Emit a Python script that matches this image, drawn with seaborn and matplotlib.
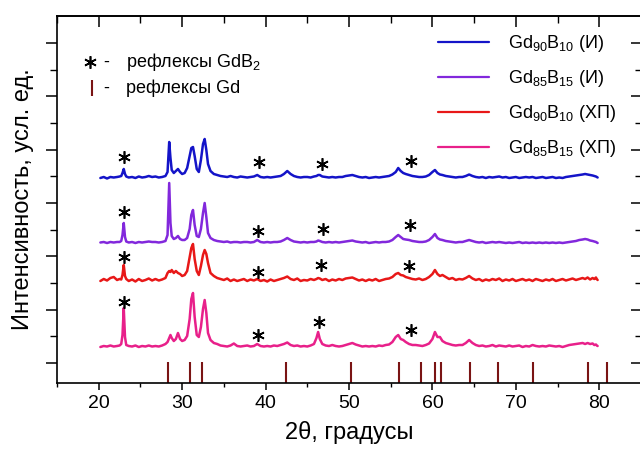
import numpy as np
import pandas as pd
import matplotlib
matplotlib.use("Agg")
import matplotlib.pyplot as plt
import seaborn as sns
from matplotlib.lines import Line2D
from matplotlib.ticker import FixedLocator, MultipleLocator

# ---------------- data ----------------
two_theta = [
    20.2, 20.6, 21.0, 21.4, 21.8, 22.2, 22.5, 22.7, 22.85, 23.0,
    23.15, 23.3, 23.6, 24.0, 24.4, 24.8, 25.2, 25.6, 26.0, 26.4,
    26.8, 27.2, 27.6, 28.0, 28.25, 28.45, 28.6, 28.75, 29.0, 29.25,
    29.5, 29.75, 30.0, 30.3, 30.6, 30.9, 31.1, 31.3, 31.5, 31.75,
    32.0, 32.25, 32.5, 32.7, 32.9, 33.1, 33.4, 33.8, 34.2, 34.6,
    35.0, 35.4, 35.8, 36.2, 36.6, 37.0, 37.4, 37.8, 38.2, 38.6,
    39.0, 39.4, 39.8, 40.2, 40.6, 41.0, 41.4, 41.8, 42.2, 42.6,
    43.0, 43.4, 43.8, 44.2, 44.6, 45.0, 45.4, 45.8, 46.1, 46.3,
    46.5, 46.8, 47.2, 47.6, 48.0, 48.4, 48.8, 49.2, 49.6, 50.0,
    50.4, 50.8, 51.2, 51.6, 52.0, 52.4, 52.8, 53.2, 53.6, 54.0,
    54.4, 54.8, 55.2, 55.6, 55.9, 56.2, 56.5, 56.8, 57.2, 57.6,
    58.0, 58.4, 58.8, 59.2, 59.6, 60.0, 60.3, 60.6, 60.9, 61.2,
    61.6, 62.0, 62.4, 62.8, 63.2, 63.6, 64.0, 64.4, 64.8, 65.2,
    65.6, 66.0, 66.4, 66.8, 67.2, 67.6, 68.0, 68.4, 68.8, 69.2,
    69.6, 70.0, 70.4, 70.8, 71.2, 71.6, 72.0, 72.4, 72.8, 73.2,
    73.6, 74.0, 74.4, 74.8, 75.2, 75.6, 76.0, 76.4, 76.8, 77.2,
    77.6, 78.0, 78.3, 78.6, 78.9, 79.2, 79.4, 79.6, 79.7, 79.8,
]

gd90_i = [
    0, 1, -0.5, 1, 0.5, 1, 1.5, 2, 5, 9,
    4, 1.5, 0.5, 1, 0, 1.5, 0.5, 1, 2, 1,
    1.5, 0.5, 1, 2, 6, 36, 20, 8, 5, 7,
    9, 6, 4, 5, 10, 22, 30, 31, 22, 9,
    6, 18, 34, 39, 28, 14, 7, 4, 3, 2,
    1.5, 1, 2, 1, 0.5, 1.5, 1, 0.5, 1, 1.5,
    3, 1, 0.5, 1, 0.5, 1, 1.5, 2, 4, 7,
    4, 2, 1, 0.5, 1, 1, 0.5, 1.5, 2, 3,
    3, 1.5, 1, 0.5, 1, 0.5, 1, 1, 2, 2.5,
    3, 2, 1, 0.5, 1, 0, 0.5, 1, 0.5, 1,
    1.5, 2, 3.5, 6, 10, 7, 5, 4, 3, 2,
    1.5, 1, 1, 1.5, 3, 6, 8, 5, 3.5, 3,
    2, 1.5, 1, 0.5, 1, 1, 2, 3.5, 2, 1,
    0.5, 1, 0, 1, 0.5, 1, 1.5, 0.5, 1, 0,
    0.5, 1, 0, 0.5, 1, 0.5, 1, 0, 0.5, 1,
    0, 0.5, 1, 0, 0.5, 0, 1, 1.5, 2, 2.5,
    3, 3.5, 4, 3.5, 3, 2.5, 2, 1.5, 1, 0.5,
]

gd85_i = [
    0.5, 1, 0, 1, 0.5, 1, 1, 2, 8, 20,
    6, 1.5, 0.5, 1, 0, 1, 0.5, 1, 1.5, 1,
    1, 0.5, 1, 2, 8, 60, 20, 7, 4, 5,
    7, 4, 3, 3, 5, 14, 28, 33, 18, 7,
    6, 14, 30, 40, 26, 10, 5, 3, 2, 1.5,
    1, 1.5, 0.5, 1, 1, 0.5, 1, 1, 0.5, 1,
    3, 1, 0.5, 1, 0.5, 1, 1, 1.5, 3, 5,
    3, 1.5, 1, 0.5, 1, 0.5, 1, 1, 1.5, 2.5,
    2, 1, 0.5, 1, 0.5, 1, 0.5, 1, 1.5, 2,
    2.5, 1.5, 1, 0.5, 1, 0, 0.5, 1, 0.5, 1,
    1, 1.5, 3, 6, 8, 6, 4, 3.5, 3, 2,
    1.5, 1, 1, 1.5, 3, 6, 9, 5, 3.5, 3,
    2, 1.5, 1, 0.5, 1, 1, 2, 3, 2, 1,
    0.5, 1, 0, 0.5, 1, 0.5, 1, 0.5, 0, 0.5,
    0, 0.5, 1, 0, 0.5, 0, 0.5, 0, 0.5, 0,
    0.5, 0, 0.5, 0, 0.5, 0, 0.5, 1, 1.5, 2,
    3, 3.5, 4, 3.5, 2.5, 2, 1.5, 1, 0.5, 0,
]

gd90_hp = [
    0, 2, 0.5, 3, 4, 1, 2, 1.5, 6, 16,
    5, 2, 0, 1.5, -0.5, 2, 0, 1, 2.5, 0.5,
    2, 0.5, 1.5, 3, 8, 10, 9, 11, 8, 10,
    8, 7, 5, 6, 10, 24, 33, 37, 22, 10,
    6, 15, 26, 31, 27, 18, 8, 5, 3, 2,
    1, 2.5, 0, 1.5, 0, 1, 2, 0, 1.5, 0.5,
    2, 0, 1, -0.5, 1.5, 0, 1, 2, 3, 4.5,
    2, 1, 2.5, 0, 1, 0.5, 2, 1, 2, 3,
    2.5, 1, 2, 0, 1.5, 0.5, 2, 1, 2.5, 3,
    3.5, 2, 0.5, 1.5, 0, 1.5, 0.5, 2, 0, 1,
    2, 2.5, 4, 7, 8, 6, 5.5, 4, 3, 2,
    1.5, 2.5, 1, 2, 4, 7, 11, 7, 5, 6,
    4, 2, 3, 1, 2, 1.5, 3, 5, 2.5, 1,
    2, 0, 1.5, 0.5, 2, 1, 2.5, 0, 1.5, 0.5,
    2, 0, 1, 2, 0.5, 1.5, 0, 2, 1, 0,
    1.5, 0.5, 2, 0, 1, 2, 0.5, 1.5, 2.5, 1,
    2, 3, 2, 3.5, 1.5, 3, 2, 3.5, 2, 1,
]

gd85_hp = [
    0, 1, 0.5, 1.5, 0.5, 1, 1.5, 3, 12, 39,
    10, 2, 1, 0.5, 1.5, 0, 1, 0.5, 1.5, 0.5,
    1, 0.5, 1.5, 3, 5, 9, 12, 9, 6, 8,
    14, 8, 6, 7, 11, 28, 48, 54, 30, 12,
    10, 20, 38, 47, 34, 14, 7, 4, 3, 1.5,
    1, 0.5, 1.5, 3.5, 1, 0.5, 1, 1.5, 0.5, 1,
    3, 1, 0.5, 1, 0.5, 1.5, 1, 2, 3, 4.5,
    2, 1, 1.5, 0.5, 1, 0.5, 1.5, 3, 9, 15,
    8, 3, 1.5, 1, 2, 1, 0.5, 1, 2, 3,
    4, 2.5, 1.5, 0.5, 1, 0.5, 1, 0.5, 1.5, 1,
    2, 2.5, 5, 10, 12, 8, 7, 5, 3, 2,
    2, 1.5, 1, 2, 3.5, 8, 15, 10, 10, 6,
    4, 3, 2, 1.5, 2, 2, 4, 7, 4, 2,
    1, 1.5, 0.5, 1, 2, 0.5, 1.5, 1, 0.5, 1.5,
    0.5, 1, 1.5, 0, 1, 0.5, 2, 1, 0.5, 1,
    0.5, 1.5, 1, 0.5, 1, 0, 1, 2, 2.5, 3,
    3.5, 4, 3, 4, 3, 3.5, 2, 2.5, 1.5, 1,
]

series_names = ["Gd90B10 (И)", "Gd85B15 (И)", "Gd90B10 (ХП)", "Gd85B15 (ХП)"]
series_values = [gd90_i, gd85_i, gd90_hp, gd85_hp]
series_offsets = [205, 140, 102, 36]
series_labels = [r"Gd$_{90}$B$_{10}$ (И)", r"Gd$_{85}$B$_{15}$ (И)",
                 r"Gd$_{90}$B$_{10}$ (ХП)", r"Gd$_{85}$B$_{15}$ (ХП)"]
series_colors = ["#1414c8", "#8228dc", "#e81818", "#e8208a"]

# GdB2 reflections marked with asterisks (x, y) per series
star_x = [[23.0, 39.2, 46.8, 57.4], [23.0, 39.1, 46.9, 57.3],
          [23.0, 39.1, 46.6, 57.2], [23.0, 39.1, 46.4, 57.4]]
star_y = [[226, 221, 219, 222], [171, 152, 154, 158],
          [126, 111, 118, 117], [81, 48, 61, 53]]

# Gd reference reflections
gd_lines = [28.3, 30.9, 32.4, 42.5, 50.2, 56.0, 58.6, 60.3, 61.0, 64.5,
            67.8, 72.0, 78.6, 80.9]
gd_line_height = 21

x_ticks = [20, 30, 40, 50, 60, 70, 80]

# ---------------- style ----------------
sns.set_theme(style="ticks")
plt.rcParams["font.family"] = ["Liberation Sans", "DejaVu Sans"]
plt.rcParams["mathtext.fontset"] = "custom"
plt.rcParams["mathtext.rm"] = "Liberation Sans"
plt.rcParams["mathtext.it"] = "Liberation Sans:italic"
plt.rcParams["mathtext.bf"] = "Liberation Sans:bold"
for k in ["text.color", "axes.labelcolor", "xtick.color", "ytick.color",
          "axes.edgecolor"]:
    plt.rcParams[k] = "black"

fig = plt.figure(figsize=(6.4, 4.5), dpi=100)
ax = fig.add_axes([57 / 640, 67 / 450, 584 / 640, 367 / 450])

rows = []
for name, vals, off in zip(series_names, series_values, series_offsets):
    for x, v in zip(two_theta, vals):
        rows.append({"x": x, "y": v + off, "s": name})
df = pd.DataFrame(rows)

sns.lineplot(data=df, x="x", y="y", hue="s", hue_order=series_names,
             palette=dict(zip(series_names, series_colors)),
             sort=False, estimator=None, legend=False, lw=1.8, ax=ax)

for xs, ys in zip(star_x, star_y):
    ax.plot(xs, ys, ls="none", marker=(6, 2, 0), ms=9, mec="black", mew=1.2)

ax.vlines(gd_lines, 0, gd_line_height, color="#7a1414", lw=1.5)

ax.set_xlim(15, 85)
ax.set_ylim(0, 367)


def px2x(px):
    return 15 + (px - 57) * 70 / 584


# spines / ticks
for sp in ax.spines.values():
    sp.set_linewidth(1.2)
    sp.set_color("black")

ax.xaxis.set_major_locator(FixedLocator(x_ticks))
ax.xaxis.set_minor_locator(MultipleLocator(5))
ax.tick_params(axis="x", which="major", direction="out", length=5, width=1.1,
               labelsize=14, pad=4, colors="black")
ax.tick_params(axis="x", which="minor", direction="out", length=3, width=1.0)

ymaj = [20 + 53.33 * k for k in range(7)]
ymin = [46.67 + 53.33 * k for k in range(6)]
ax.yaxis.set_major_locator(FixedLocator(ymaj))
ax.yaxis.set_minor_locator(FixedLocator(ymin))
ax.tick_params(axis="y", which="major", direction="out", length=8, width=1.1,
               labelleft=False)
ax.tick_params(axis="y", which="minor", direction="out", length=5, width=1.0)

secx = ax.secondary_xaxis("top")
secx.xaxis.set_major_locator(FixedLocator(x_ticks))
secx.xaxis.set_minor_locator(MultipleLocator(5))
secx.tick_params(which="major", direction="in", length=8, width=1.1, labeltop=False)
secx.tick_params(which="minor", direction="in", length=5, width=1.0)
secx.spines["top"].set_linewidth(1.2)

secy = ax.secondary_yaxis("right")
secy.yaxis.set_major_locator(FixedLocator(ymaj))
secy.yaxis.set_minor_locator(FixedLocator(ymin))
secy.tick_params(which="major", direction="in", length=7, width=1.1, labelright=False)
secy.tick_params(which="minor", direction="in", length=4, width=1.0)

ax.set_xlabel("2θ, градусы", fontsize=17, labelpad=6)
ax.set_ylabel("Интенсивность, усл. ед.", fontsize=17, labelpad=8)

# legend
handles = [Line2D([], [], color=c, lw=1.6) for c in series_colors]
leg = ax.legend(handles, series_labels, loc="upper left",
                bbox_to_anchor=(438 / 640, 417 / 450),
                bbox_transform=fig.transFigure, frameon=False, fontsize=13,
                handlelength=2.8, handletextpad=1.05, labelspacing=0.78,
                borderpad=0, borderaxespad=0)

# reflections key (upper left)
ax.plot([px2x(90)], [383 - 62], ls="none", marker=(6, 2, 0),
        ms=9, mec="black", mew=1.2, clip_on=False)
fig.text(106 / 640, 1 - 62 / 450, "-", fontsize=13, ha="center", va="center")
fig.text(126 / 640, 1 - 62 / 450, r"рефлексы GdB$_2$", fontsize=13,
         ha="left", va="center")
ax.vlines([px2x(92)], 383 - 96, 383 - 80, color="#7a1414", lw=1.5)
fig.text(106 / 640, 1 - 88 / 450, "-", fontsize=13, ha="center", va="center")
fig.text(126 / 640, 1 - 88 / 450, "рефлексы Gd", fontsize=13,
         ha="left", va="center")

fig.savefig("out.png", dpi=100)
